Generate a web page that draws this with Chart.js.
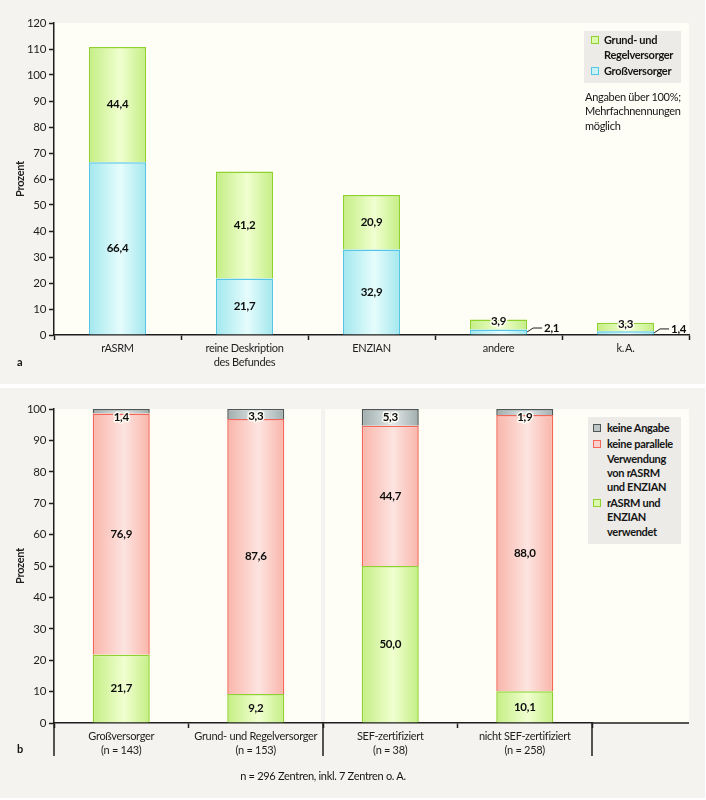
<!DOCTYPE html>
<html lang="de">
<head>
<meta charset="utf-8">
<title>rASRM / ENZIAN</title>
<script src="https://cdn.jsdelivr.net/npm/chart.js@4.4.1/dist/chart.umd.min.js"></script>
<style>
  html, body { margin: 0; padding: 0; background: #fff; }
  #page { position: relative; width: 706px; height: 800px; background: #fff; font-family: Lato, sans-serif; color: #151515; letter-spacing: -0.3px; }
  .panel { position: absolute; left: 0; width: 705px; background: #f4f3f0; }
  canvas { position: absolute; left: 0; }
  .box { position: absolute; background: #ecebe7; }
  .t { position: absolute; font-size: 11px; line-height: 14px; white-space: nowrap; }
  .b { font-weight: bold; }
  .mk { position: absolute; width: 6px; height: 6px; border: 1.5px solid; }
</style>
</head>
<body>
<div id="page">
  <div class="panel" style="top:0;height:384px"></div>
  <div class="panel" style="top:388px;height:410px"></div>
  <canvas id="chartA" width="706" height="384" style="top:0"></canvas>
  <canvas id="chartB" width="706" height="410" style="top:388px"></canvas>

  <!-- Legende a -->
  <div class="box" style="left:584px;top:31px;width:97px;height:52px"></div>
  <div class="mk" style="left:591px;top:36px;background:#dcf7ae;border-color:#8fd22f"></div>
  <div class="t b" style="left:604px;top:33px">Grund- und</div>
  <div class="t b" style="left:604px;top:48px">Regelversorger</div>
  <div class="mk" style="left:591px;top:67px;background:#c8f2f4;border-color:#55c6e4"></div>
  <div class="t b" style="left:604px;top:64px">Großversorger</div>
  <div class="t" style="left:585px;top:90px">Angaben über 100%;</div>
  <div class="t" style="left:585px;top:104px">Mehrfachnennungen</div>
  <div class="t" style="left:585px;top:119px">möglich</div>
  <div class="t b" style="left:17px;top:355px">a</div>

  <!-- Legende b -->
  <div class="box" style="left:588px;top:417px;width:93px;height:127px"></div>
  <div class="mk" style="left:593px;top:424px;background:#bcc6c6;border-color:#505656"></div>
  <div class="t b" style="left:607px;top:421px">keine Angabe</div>
  <div class="mk" style="left:593px;top:440px;background:#fcd0ca;border-color:#f2675a"></div>
  <div class="t b" style="left:607px;top:437px">keine parallele</div>
  <div class="t b" style="left:607px;top:452px">Verwendung</div>
  <div class="t b" style="left:607px;top:466px">von rASRM</div>
  <div class="t b" style="left:607px;top:480px">und ENZIAN</div>
  <div class="mk" style="left:593px;top:499px;background:#dcf7ae;border-color:#8fd22f"></div>
  <div class="t b" style="left:607px;top:496px">rASRM und</div>
  <div class="t b" style="left:607px;top:510px">ENZIAN</div>
  <div class="t b" style="left:607px;top:525px">verwendet</div>
  <div class="t b" style="left:17px;top:742px">b</div>
  <div class="t" style="left:323px;top:769px;transform:translateX(-50%)">n = 296 Zentren, inkl. 7 Zentren o. A.</div>
</div>

<script>
// Abb. a: Klassifikationen nach Versorgungsstufe (Mehrfachnennungen)
const topCategories = ['rASRM', ['reine Deskription', 'des Befundes'], 'ENZIAN', 'andere', 'k.\u2009A.'];
const grossVersorger = [66.4, 21.7, 32.9, 2.1, 1.4];
const grundRegelVersorger = [44.4, 41.2, 20.9, 3.9, 3.3];
const topYMax = 120;

// Abb. b: parallele Verwendung rASRM + ENZIAN
const bottomCategories = [
  ['Großversorger', '(n = 143)'],
  ['Grund- und Regelversorger', '(n = 153)'],
  ['SEF-zertifiziert', '(n = 38)'],
  ['nicht SEF-zertifiziert', '(n = 258)']
];
const beideVerwendet = [21.7, 9.2, 50.0, 10.1];
const keineParallele = [76.9, 87.6, 44.7, 88.0];
const keineAngabe = [1.4, 3.3, 5.3, 1.9];
const bottomYMax = 100;

const ink = '#1e1e1e';
const cream = '#fffef6';

// "Zylinder"-Verlauf quer über den Balken
function cylinder(edge, mid, pct) {
  return function (ctx) {
    const x = ctx.chart.scales.x;
    if (ctx.type !== 'data' || !x) return edge;
    const cx = x.getPixelForValue(ctx.dataIndex);
    const half = (x.getPixelForValue(1) - x.getPixelForValue(0)) * pct / 2;
    if (!isFinite(cx) || !isFinite(half) || half <= 0) return edge;
    const g = ctx.chart.ctx.createLinearGradient(cx - half, 0, cx + half, 0);
    g.addColorStop(0, edge);
    g.addColorStop(0.55, mid);
    g.addColorStop(1, edge);
    return g;
  };
}

// etwas engere Laufweite wie im Original
const tightText = {
  id: 'tightText',
  beforeUpdate(chart) { chart.ctx.letterSpacing = '-0.3px'; },
  beforeDraw(chart) { chart.ctx.letterSpacing = '-0.3px'; }
};

// Hintergrund der Plotfläche + Zusatzlinien
function panelPlugin(cfg) {
  return {
    id: 'panel',
    beforeDraw(chart) {
      const a = chart.chartArea, c = chart.ctx;
      c.save();
      c.fillStyle = cream;
      const right = cfg.right || a.right;
      if (cfg.gapAt !== undefined) {
        const gx = a.left + cfg.gapAt * a.width / chart.data.labels.length;
        c.fillRect(a.left, a.top, gx - 2 - a.left, a.bottom - a.top);
        c.fillRect(gx + 2, a.top, right - gx - 2, a.bottom - a.top);
      } else {
        c.fillRect(a.left, a.top, right - a.left, a.bottom - a.top);
      }
      c.restore();
    },
    afterDraw(chart) {
      const a = chart.chartArea, c = chart.ctx;
      c.save();
      c.strokeStyle = ink;
      c.lineWidth = 1.5;
      if (cfg.right) {
        c.beginPath();
        c.moveTo(a.right, a.bottom);
        c.lineTo(cfg.right, a.bottom);
        c.stroke();
      }
      (cfg.longTicks || []).forEach(k => {
        const x = a.left + k * a.width / chart.data.labels.length;
        c.beginPath();
        c.moveTo(x, a.bottom);
        c.lineTo(x, a.bottom + 33);
        c.stroke();
      });
      c.restore();
    }
  };
}

// Werte in/neben den Segmenten
function valueLabels(place) {
  return {
    id: 'valueLabels',
    afterDatasetsDraw(chart) {
      const c = chart.ctx;
      c.save();
      c.font = 'bold 11.5px Lato';
      c.textBaseline = 'middle';
      c.lineJoin = 'round';
      chart.data.datasets.forEach((ds, di) => {
        chart.getDatasetMeta(di).data.forEach((bar, i) => {
          const v = ds.data[i];
          const txt = v.toFixed(1).replace('.', ',');
          const top = Math.min(bar.y, bar.base);
          const bottom = Math.max(bar.y, bar.base);
          const mode = place(di, v);
          let x = bar.x, y = (top + bottom) / 2, halo = false;
          c.textAlign = 'center';
          if (mode === 'edge') { y = top + 1.5; halo = true; }
          if (mode === 'cap') { y = top + 8; halo = true; }
          if (mode === 'side') {
            const x0 = bar.x + bar.width / 2, y0 = y;
            c.strokeStyle = ink;
            c.lineWidth = 1;
            c.beginPath();
            c.moveTo(x0, y0);
            c.lineTo(x0 + 6, y0 - 4);
            c.lineTo(x0 + 15, y0 - 4);
            c.stroke();
            x = x0 + 17; y = y0 - 4;
            c.textAlign = 'left';
          }
          if (halo) {
            c.strokeStyle = 'rgba(255,255,246,0.9)';
            c.lineWidth = 3;
            c.strokeText(txt, x, y);
          }
          c.fillStyle = '#0d0d0d';
          c.fillText(txt, x, y);
        });
      });
      c.restore();
    }
  };
}

function axes(yMax, xHeight, titleText) {
  return {
    x: {
      stacked: true,
      grid: { drawOnChartArea: false, tickLength: 5, tickColor: ink, tickWidth: 1.5 },
      border: { color: ink, width: 1.5 },
      ticks: { color: ink, font: { family: 'Lato', size: 11, lineHeight: 1.28 }, padding: 1, maxRotation: 0, autoSkip: false },
      afterFit: s => { s.height = xHeight; }
    },
    y: {
      stacked: true,
      min: 0,
      max: yMax,
      grid: { drawOnChartArea: false, tickLength: 5, tickColor: ink, tickWidth: 1.5 },
      border: { color: ink, width: 1.5 },
      ticks: { stepSize: 10, color: ink, font: { family: 'Lato', size: 11.5 }, padding: 3 },
      title: { display: true, text: titleText, color: ink, font: { family: 'Lato', size: 11, weight: 'bold' }, padding: { top: 14, bottom: 0 } },
      afterFit: s => { s.width = 54; }
    }
  };
}

const green = ['#c4ee84', '#f0ffd0', '#8fd22f'];
const blue = ['#a2e8ee', '#e6fcfc', '#55c6e4'];
const red = ['#f9b5aa', '#fde4e0', '#f2675a'];
const grey = ['#a0adad', '#e2e8e8', '#505656'];

const pctA = 0.45;
new Chart(document.getElementById('chartA'), {
  type: 'bar',
  data: {
    labels: topCategories,
    datasets: [
      { label: 'Großversorger', data: grossVersorger, backgroundColor: cylinder(blue[0], blue[1], pctA), borderColor: blue[2], borderWidth: 1.5 },
      { label: 'Grund- und Regelversorger', data: grundRegelVersorger, backgroundColor: cylinder(green[0], green[1], pctA), borderColor: green[2], borderWidth: 1.5 }
    ]
  },
  options: {
    responsive: false,
    animation: false,
    layout: { padding: { top: 23, right: 17, left: 0, bottom: 0 } },
    datasets: { bar: { barPercentage: pctA, categoryPercentage: 1 } },
    plugins: { legend: { display: false }, tooltip: { enabled: false } },
    scales: axes(topYMax, 49, 'Prozent')
  },
  plugins: [tightText, panelPlugin({}), valueLabels((di, v) => v < 3 ? 'side' : v < 5 ? 'edge' : 'center')]
});

const pctB = 0.424;
new Chart(document.getElementById('chartB'), {
  type: 'bar',
  data: {
    labels: bottomCategories,
    datasets: [
      { label: 'rASRM und ENZIAN verwendet', data: beideVerwendet, backgroundColor: cylinder(green[0], green[1], pctB), borderColor: green[2], borderWidth: 1.5 },
      { label: 'keine parallele Verwendung von rASRM und ENZIAN', data: keineParallele, backgroundColor: cylinder(red[0], red[1], pctB), borderColor: red[2], borderWidth: 1.5 },
      { label: 'keine Angabe', data: keineAngabe, backgroundColor: cylinder(grey[0], grey[1], pctB), borderColor: grey[2], borderWidth: 1.5 }
    ]
  },
  options: {
    responsive: false,
    animation: false,
    layout: { padding: { top: 21, right: 114, left: 0, bottom: 0 } },
    datasets: { bar: { barPercentage: pctB, categoryPercentage: 1 } },
    plugins: { legend: { display: false }, tooltip: { enabled: false } },
    scales: axes(bottomYMax, 75, 'Prozent')
  },
  plugins: [tightText, panelPlugin({ right: 689, gapAt: 2, longTicks: [0, 2, 4] }), valueLabels(di => di === 2 ? 'cap' : 'center')]
});
</script>
</body>
</html>
